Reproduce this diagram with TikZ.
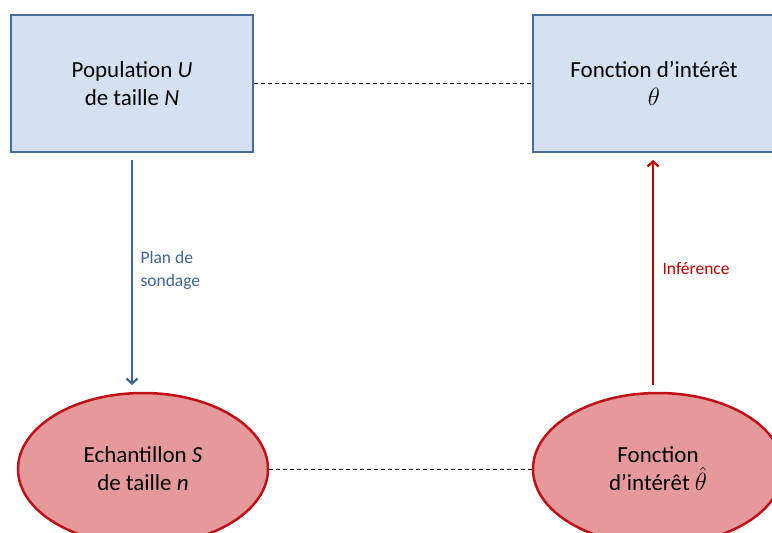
\documentclass[tikz,border=0pt]{standalone}
\usepackage{fontspec}
\setmainfont{Carlito}
\usetikzlibrary{shapes.geometric,arrows.meta}
\definecolor{boxfill}{HTML}{D4E1F3}
\definecolor{boxline}{HTML}{4A6C9B}
\definecolor{ellfill}{HTML}{E6999A}
\definecolor{ellline}{HTML}{C0101A}
\definecolor{arrblue}{HTML}{3E6496}
\definecolor{arrred}{HTML}{C00000}
\tikzset{
  popbox/.style={rectangle, draw=boxline, fill=boxfill, line width=2.5pt,
    minimum width=242pt, minimum height=137pt, align=center, font=\fontsize{23}{28}\selectfont},
  ellnode/.style={ellipse, draw=ellline, fill=ellfill, line width=2.5pt,
    minimum width=250pt, minimum height=152pt, inner sep=0pt, align=center, font=\fontsize{23}{28}\selectfont},
  dashline/.style={draw=black, line width=0.9pt, dash pattern=on 4pt off 3pt},
  bluearrow/.style={draw=arrblue, line width=2.2pt, -{Straight Barb[length=5pt,width=11pt]}},
  redarrow/.style={draw=arrred, line width=2.2pt, -{Straight Barb[length=5pt,width=11pt]}},
  lbl/.style={align=left, anchor=west, font=\fontsize{17.5}{23}\selectfont}
}
\begin{document}
\begin{tikzpicture}[x=1pt,y=-1pt]
\useasboundingbox (0,0) rectangle (772,533);
\clip (0,0) rectangle (772,533);
\node[popbox] (pop) at (132,83.5) {Population \textit{U}\\de taille \textit{N}};
\node[popbox] (fi) at (654,83.5) {Fonction d’intérêt\\$\theta$};
\node[ellnode] (ech) at (143,469) {Echantillon \textit{S}\\de taille \textit{n}};
\node[ellnode] (fh) at (658,469) {Fonction\\d’intérêt $\hat{\theta}$};
\draw[dashline] (pop.east) -- (fi.west);
\draw[dashline] (ech.east) -- (fh.west);
\coordinate (a1) at ([yshift=-7pt]pop.south);
\coordinate (a2) at (132,385);
\draw[bluearrow] (a1) -- (a2);
\coordinate (b1) at (653,385);
\coordinate (b2) at (653,160);
\draw[redarrow] (b1) -- (b2);
\node[lbl, text=arrblue] (plan) at (137,270) {Plan de\\sondage};
\node[lbl, text=arrred] (inf) at (659,269) {Inférence};
\end{tikzpicture}
\end{document}
